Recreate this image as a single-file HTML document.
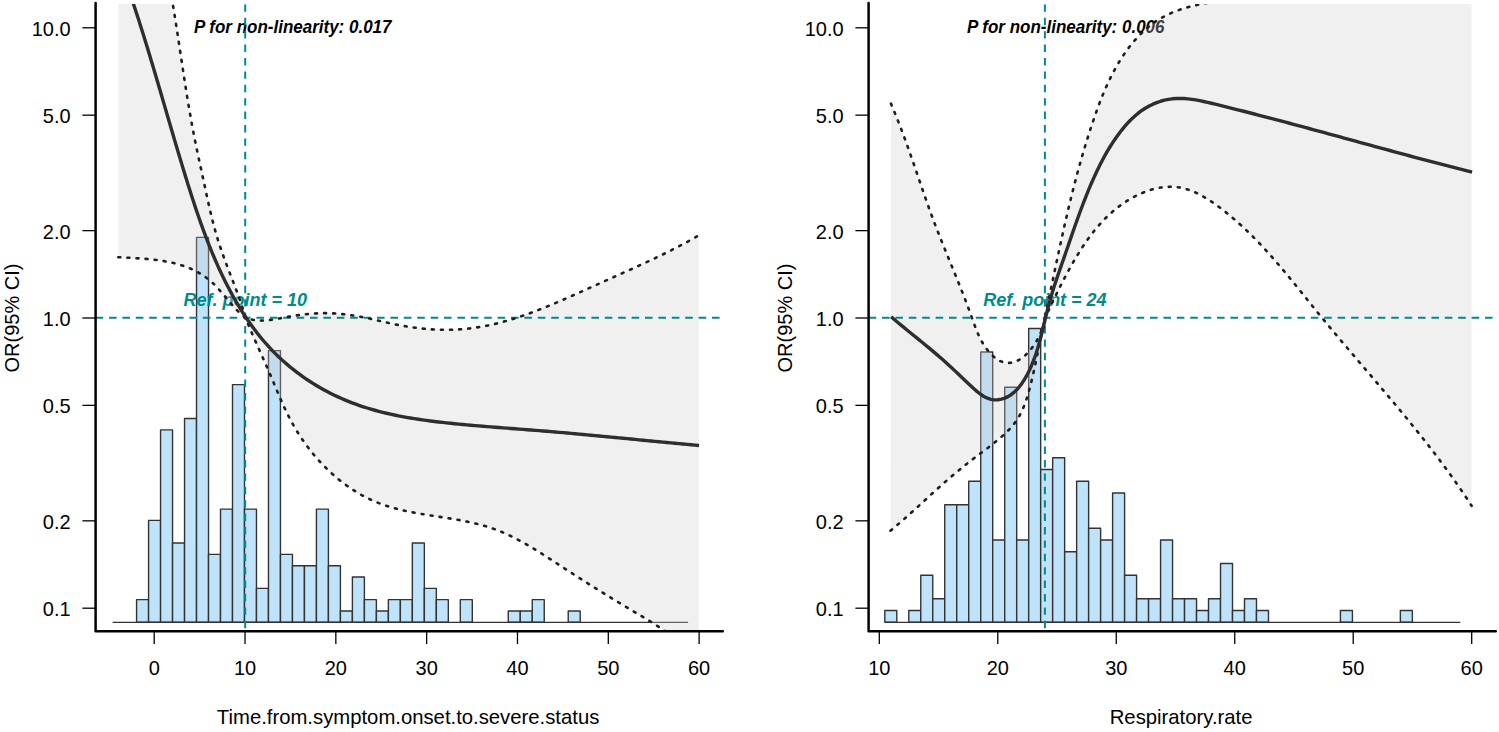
<!DOCTYPE html>
<html><head><meta charset="utf-8"><style>
html,body{margin:0;padding:0;background:#fff;}
body{width:1499px;height:732px;overflow:hidden;font-family:"Liberation Sans", sans-serif;}
svg{display:block;}
</style></head><body>
<svg width="1499" height="732" viewBox="0 0 1499 732">
<defs><clipPath id="cl"><rect x="95.6" y="4" width="628" height="627"/></clipPath><clipPath id="cr"><rect x="868.6" y="4" width="628" height="627"/></clipPath></defs>
<rect width="1499" height="732" fill="#fff"/>
<g fill="#bee3fb" stroke="#333333" stroke-width="1.4" stroke-linejoin="round">
<rect x="136.58" y="599.66" width="11.99" height="22.64"/>
<rect x="148.57" y="520.42" width="11.99" height="101.88"/>
<rect x="160.56" y="429.86" width="11.99" height="192.44"/>
<rect x="172.55" y="543.06" width="11.99" height="79.24"/>
<rect x="184.54" y="418.54" width="11.99" height="203.76"/>
<rect x="196.53" y="237.42" width="11.99" height="384.88"/>
<rect x="208.52" y="554.38" width="11.99" height="67.92"/>
<rect x="220.51" y="509.10" width="11.99" height="113.20"/>
<rect x="232.50" y="384.58" width="11.99" height="237.72"/>
<rect x="244.49" y="509.10" width="11.99" height="113.20"/>
<rect x="256.48" y="588.34" width="11.99" height="33.96"/>
<rect x="268.47" y="350.62" width="11.99" height="271.68"/>
<rect x="280.46" y="554.38" width="11.99" height="67.92"/>
<rect x="292.45" y="565.70" width="11.99" height="56.60"/>
<rect x="304.44" y="565.70" width="11.99" height="56.60"/>
<rect x="316.43" y="509.10" width="11.99" height="113.20"/>
<rect x="328.42" y="565.70" width="11.99" height="56.60"/>
<rect x="340.41" y="610.98" width="11.99" height="11.32"/>
<rect x="352.40" y="577.02" width="11.99" height="45.28"/>
<rect x="364.39" y="599.66" width="11.99" height="22.64"/>
<rect x="376.38" y="610.98" width="11.99" height="11.32"/>
<rect x="388.37" y="599.66" width="11.99" height="22.64"/>
<rect x="400.36" y="599.66" width="11.99" height="22.64"/>
<rect x="412.35" y="543.06" width="11.99" height="79.24"/>
<rect x="424.34" y="588.34" width="11.99" height="33.96"/>
<rect x="436.33" y="599.66" width="11.99" height="22.64"/>
<rect x="460.31" y="599.66" width="11.99" height="22.64"/>
<rect x="508.27" y="610.98" width="11.99" height="11.32"/>
<rect x="520.26" y="610.98" width="11.99" height="11.32"/>
<rect x="532.25" y="599.66" width="11.99" height="22.64"/>
<rect x="568.22" y="610.98" width="11.99" height="11.32"/>
</g>
<line x1="112.60" y1="622.30" x2="688.12" y2="622.30" stroke="#333333" stroke-width="1.3"/>
<text transform="translate(292.7,33.3) scale(1,1.07)" font-family="Liberation Sans" font-weight="bold" font-style="italic" font-size="17" text-anchor="middle" fill="#000">P for non-linearity: 0.017</text>
<text transform="translate(245.2,305.7) scale(1,1.05)" font-family="Liberation Sans" font-weight="bold" font-style="italic" font-size="18" text-anchor="middle" fill="#008B8B">Ref. point = 10</text>
<g clip-path="url(#cl)">
<path d="M118.30,-200.00 L170.00,-12.00 L170.72,-7.96 L171.42,-3.92 L172.12,0.12 L172.80,4.17 L173.47,8.21 L174.13,12.25 L174.78,16.30 L175.42,20.34 L176.05,24.38 L176.68,28.43 L177.31,32.47 L177.93,36.52 L178.54,40.56 L179.15,44.60 L179.76,48.65 L180.37,52.69 L180.98,56.73 L181.59,60.77 L182.20,64.81 L182.81,68.85 L183.42,72.89 L184.04,76.93 L184.66,80.97 L185.29,85.00 L185.93,89.03 L186.57,93.07 L187.22,97.10 L187.88,101.13 L188.55,105.16 L189.23,109.18 L189.93,113.20 L190.63,117.23 L191.35,121.25 L192.08,125.26 L192.83,129.28 L193.59,133.29 L194.38,137.30 L195.17,141.31 L195.99,145.32 L196.82,149.32 L197.66,153.32 L198.52,157.32 L199.38,161.31 L200.24,165.30 L201.11,169.29 L201.97,173.28 L202.84,177.26 L203.70,181.23 L204.55,185.21 L205.40,189.18 L206.25,193.15 L207.10,197.11 L207.97,201.07 L208.85,205.03 L209.75,208.98 L210.67,212.92 L211.62,216.87 L212.60,220.81 L213.62,224.74 L214.68,228.67 L215.78,232.59 L216.93,236.51 L218.12,240.43 L219.37,244.34 L220.67,248.25 L222.02,252.15 L223.41,256.04 L224.83,259.93 L226.28,263.82 L227.76,267.70 L229.24,271.57 L230.73,275.44 L232.22,279.30 L233.70,283.16 L235.16,287.01 L236.60,290.85 L238.01,294.69 L239.38,298.52 L240.70,302.35 L241.97,306.17 L243.19,309.98 L244.33,313.79 L245.40,317.59 L249.35,319.00 L253.32,319.93 L257.30,320.44 L261.28,320.59 L265.26,320.45 L269.25,320.08 L273.24,319.51 L277.24,318.83 L281.23,318.08 L285.23,317.33 L289.24,316.61 L293.24,315.94 L297.25,315.33 L301.26,314.78 L305.28,314.30 L309.29,313.89 L313.31,313.57 L317.33,313.34 L321.35,313.20 L325.37,313.16 L329.39,313.23 L333.42,313.40 L337.44,313.66 L341.47,314.01 L345.49,314.44 L349.52,314.96 L353.54,315.55 L357.57,316.21 L361.59,316.94 L365.62,317.73 L369.64,318.58 L373.67,319.47 L377.69,320.40 L381.71,321.33 L385.73,322.27 L389.75,323.18 L393.77,324.05 L397.79,324.88 L401.80,325.64 L405.81,326.34 L409.82,326.98 L413.83,327.56 L417.83,328.07 L421.84,328.52 L425.84,328.90 L429.83,329.21 L433.83,329.46 L437.82,329.63 L441.80,329.74 L445.78,329.78 L449.76,329.74 L453.74,329.63 L457.71,329.44 L461.67,329.18 L465.64,328.85 L469.59,328.43 L473.54,327.94 L477.49,327.37 L481.43,326.72 L485.37,325.99 L489.30,325.19 L493.23,324.32 L497.15,323.38 L501.06,322.37 L504.97,321.31 L508.87,320.18 L512.77,319.00 L516.66,317.76 L520.55,316.48 L524.43,315.15 L528.30,313.77 L532.17,312.35 L536.03,310.89 L539.89,309.40 L543.74,307.87 L547.58,306.31 L551.42,304.72 L555.25,303.11 L559.07,301.48 L562.89,299.83 L566.70,298.16 L570.50,296.48 L574.30,294.79 L578.09,293.10 L581.87,291.39 L585.64,289.69 L589.41,287.99 L593.17,286.29 L596.93,284.60 L600.67,282.92 L604.41,281.24 L608.14,279.57 L611.87,277.91 L615.58,276.25 L619.29,274.59 L622.99,272.93 L626.68,271.27 L630.37,269.61 L634.05,267.94 L637.71,266.27 L641.38,264.58 L645.03,262.89 L648.67,261.19 L652.31,259.48 L655.94,257.75 L659.55,256.01 L663.16,254.25 L666.77,252.47 L670.36,250.67 L673.94,248.85 L677.52,247.01 L681.09,245.15 L684.64,243.25 L688.19,241.33 L691.73,239.39 L695.26,237.41 L698.78,235.40 L698.80,700.00 L698.80,700.00 L680.00,642.00 L676.92,639.59 L673.76,637.21 L670.55,634.87 L667.27,632.57 L663.95,630.30 L660.58,628.06 L657.17,625.84 L653.73,623.65 L650.25,621.48 L646.76,619.33 L643.25,617.20 L639.72,615.08 L636.20,612.97 L632.67,610.87 L629.15,608.78 L625.64,606.69 L622.14,604.60 L618.67,602.51 L615.22,600.42 L611.79,598.33 L608.37,596.23 L604.96,594.13 L601.57,592.03 L598.20,589.93 L594.83,587.82 L591.47,585.70 L588.12,583.58 L584.77,581.46 L581.42,579.33 L578.08,577.19 L574.74,575.04 L571.40,572.89 L568.05,570.72 L564.71,568.55 L561.35,566.37 L557.99,564.18 L554.62,561.98 L551.24,559.78 L547.84,557.58 L544.44,555.39 L541.01,553.22 L537.58,551.07 L534.12,548.94 L530.64,546.85 L527.14,544.80 L523.62,542.80 L520.07,540.85 L516.50,538.95 L512.90,537.12 L509.27,535.36 L505.61,533.67 L501.91,532.07 L498.19,530.56 L494.42,529.13 L490.62,527.81 L486.78,526.58 L482.91,525.45 L479.01,524.39 L475.09,523.41 L471.14,522.50 L467.16,521.64 L463.17,520.84 L459.16,520.09 L455.14,519.38 L451.11,518.69 L447.08,518.03 L443.03,517.39 L438.99,516.76 L434.95,516.13 L430.91,515.50 L426.88,514.86 L422.86,514.19 L418.85,513.50 L414.86,512.78 L410.88,512.02 L406.93,511.21 L403.00,510.34 L399.10,509.41 L395.23,508.41 L391.39,507.34 L387.58,506.18 L383.82,504.94 L380.09,503.59 L376.41,502.14 L372.78,500.58 L369.19,498.92 L365.65,497.16 L362.16,495.31 L358.71,493.35 L355.32,491.31 L351.97,489.17 L348.68,486.95 L345.44,484.64 L342.25,482.25 L339.12,479.78 L336.04,477.23 L333.02,474.60 L330.06,471.90 L327.15,469.13 L324.30,466.30 L321.50,463.39 L318.77,460.43 L316.10,457.40 L313.49,454.32 L310.95,451.18 L308.46,447.99 L306.05,444.75 L303.69,441.45 L301.40,438.12 L299.18,434.74 L297.03,431.32 L294.94,427.86 L292.93,424.37 L290.98,420.84 L289.11,417.28 L287.30,413.69 L285.55,410.08 L283.86,406.45 L282.20,402.79 L280.59,399.11 L278.99,395.42 L277.42,391.71 L275.86,387.98 L274.29,384.25 L272.72,380.50 L271.14,376.75 L269.53,373.00 L267.90,369.24 L266.25,365.49 L264.58,361.73 L262.91,357.98 L261.23,354.23 L259.56,350.50 L257.89,346.77 L256.23,343.06 L254.59,339.36 L252.98,335.68 L251.39,332.02 L249.83,328.38 L248.31,324.76 L246.83,321.17 L245.39,317.60 L242.40,315.32 L239.49,312.74 L236.64,309.92 L233.84,306.91 L231.08,303.74 L228.33,300.48 L225.57,297.17 L222.79,293.85 L219.97,290.58 L217.10,287.41 L214.15,284.37 L211.11,281.53 L207.96,278.91 L204.72,276.50 L201.38,274.29 L197.96,272.27 L194.45,270.43 L190.86,268.77 L187.20,267.27 L183.47,265.92 L179.68,264.71 L175.82,263.64 L171.92,262.69 L167.96,261.86 L163.95,261.13 L159.91,260.49 L155.83,259.94 L151.72,259.46 L147.58,259.05 L143.42,258.70 L139.25,258.39 L135.06,258.12 L130.87,257.87 L126.67,257.65 L122.48,257.43 L118.30,257.20Z" fill="rgba(205,205,205,0.30)" stroke="none"/>
<line x1="95.6" y1="317.8" x2="723.6" y2="317.8" stroke="#008B8B" stroke-width="2" stroke-dasharray="7.6 5.8"/>
<line x1="245.2" y1="4.4" x2="245.2" y2="631" stroke="#008B8B" stroke-width="2" stroke-dasharray="7.4 6"/>
<path d="M170.00,-12.00 L170.72,-7.96 L171.42,-3.92 L172.12,0.12 L172.80,4.17 L173.47,8.21 L174.13,12.25 L174.78,16.30 L175.42,20.34 L176.05,24.38 L176.68,28.43 L177.31,32.47 L177.93,36.52 L178.54,40.56 L179.15,44.60 L179.76,48.65 L180.37,52.69 L180.98,56.73 L181.59,60.77 L182.20,64.81 L182.81,68.85 L183.42,72.89 L184.04,76.93 L184.66,80.97 L185.29,85.00 L185.93,89.03 L186.57,93.07 L187.22,97.10 L187.88,101.13 L188.55,105.16 L189.23,109.18 L189.93,113.20 L190.63,117.23 L191.35,121.25 L192.08,125.26 L192.83,129.28 L193.59,133.29 L194.38,137.30 L195.17,141.31 L195.99,145.32 L196.82,149.32 L197.66,153.32 L198.52,157.32 L199.38,161.31 L200.24,165.30 L201.11,169.29 L201.97,173.28 L202.84,177.26 L203.70,181.23 L204.55,185.21 L205.40,189.18 L206.25,193.15 L207.10,197.11 L207.97,201.07 L208.85,205.03 L209.75,208.98 L210.67,212.92 L211.62,216.87 L212.60,220.81 L213.62,224.74 L214.68,228.67 L215.78,232.59 L216.93,236.51 L218.12,240.43 L219.37,244.34 L220.67,248.25 L222.02,252.15 L223.41,256.04 L224.83,259.93 L226.28,263.82 L227.76,267.70 L229.24,271.57 L230.73,275.44 L232.22,279.30 L233.70,283.16 L235.16,287.01 L236.60,290.85 L238.01,294.69 L239.38,298.52 L240.70,302.35 L241.97,306.17 L243.19,309.98 L244.33,313.79 L245.40,317.59 L249.35,319.00 L253.32,319.93 L257.30,320.44 L261.28,320.59 L265.26,320.45 L269.25,320.08 L273.24,319.51 L277.24,318.83 L281.23,318.08 L285.23,317.33 L289.24,316.61 L293.24,315.94 L297.25,315.33 L301.26,314.78 L305.28,314.30 L309.29,313.89 L313.31,313.57 L317.33,313.34 L321.35,313.20 L325.37,313.16 L329.39,313.23 L333.42,313.40 L337.44,313.66 L341.47,314.01 L345.49,314.44 L349.52,314.96 L353.54,315.55 L357.57,316.21 L361.59,316.94 L365.62,317.73 L369.64,318.58 L373.67,319.47 L377.69,320.40 L381.71,321.33 L385.73,322.27 L389.75,323.18 L393.77,324.05 L397.79,324.88 L401.80,325.64 L405.81,326.34 L409.82,326.98 L413.83,327.56 L417.83,328.07 L421.84,328.52 L425.84,328.90 L429.83,329.21 L433.83,329.46 L437.82,329.63 L441.80,329.74 L445.78,329.78 L449.76,329.74 L453.74,329.63 L457.71,329.44 L461.67,329.18 L465.64,328.85 L469.59,328.43 L473.54,327.94 L477.49,327.37 L481.43,326.72 L485.37,325.99 L489.30,325.19 L493.23,324.32 L497.15,323.38 L501.06,322.37 L504.97,321.31 L508.87,320.18 L512.77,319.00 L516.66,317.76 L520.55,316.48 L524.43,315.15 L528.30,313.77 L532.17,312.35 L536.03,310.89 L539.89,309.40 L543.74,307.87 L547.58,306.31 L551.42,304.72 L555.25,303.11 L559.07,301.48 L562.89,299.83 L566.70,298.16 L570.50,296.48 L574.30,294.79 L578.09,293.10 L581.87,291.39 L585.64,289.69 L589.41,287.99 L593.17,286.29 L596.93,284.60 L600.67,282.92 L604.41,281.24 L608.14,279.57 L611.87,277.91 L615.58,276.25 L619.29,274.59 L622.99,272.93 L626.68,271.27 L630.37,269.61 L634.05,267.94 L637.71,266.27 L641.38,264.58 L645.03,262.89 L648.67,261.19 L652.31,259.48 L655.94,257.75 L659.55,256.01 L663.16,254.25 L666.77,252.47 L670.36,250.67 L673.94,248.85 L677.52,247.01 L681.09,245.15 L684.64,243.25 L688.19,241.33 L691.73,239.39 L695.26,237.41 L698.78,235.40" fill="none" stroke="#1e1e1e" stroke-width="2.6" stroke-linecap="round" stroke-dasharray="2.0 7.1"/>
<path d="M118.30,257.20 L122.48,257.43 L126.67,257.65 L130.87,257.87 L135.06,258.12 L139.25,258.39 L143.42,258.70 L147.58,259.05 L151.72,259.46 L155.83,259.94 L159.91,260.49 L163.95,261.13 L167.96,261.86 L171.92,262.69 L175.82,263.64 L179.68,264.71 L183.47,265.92 L187.20,267.27 L190.86,268.77 L194.45,270.43 L197.96,272.27 L201.38,274.29 L204.72,276.50 L207.96,278.91 L211.11,281.53 L214.15,284.37 L217.10,287.41 L219.97,290.58 L222.79,293.85 L225.57,297.17 L228.33,300.48 L231.08,303.74 L233.84,306.91 L236.64,309.92 L239.49,312.74 L242.40,315.32 L245.39,317.60 L246.83,321.17 L248.31,324.76 L249.83,328.38 L251.39,332.02 L252.98,335.68 L254.59,339.36 L256.23,343.06 L257.89,346.77 L259.56,350.50 L261.23,354.23 L262.91,357.98 L264.58,361.73 L266.25,365.49 L267.90,369.24 L269.53,373.00 L271.14,376.75 L272.72,380.50 L274.29,384.25 L275.86,387.98 L277.42,391.71 L278.99,395.42 L280.59,399.11 L282.20,402.79 L283.86,406.45 L285.55,410.08 L287.30,413.69 L289.11,417.28 L290.98,420.84 L292.93,424.37 L294.94,427.86 L297.03,431.32 L299.18,434.74 L301.40,438.12 L303.69,441.45 L306.05,444.75 L308.46,447.99 L310.95,451.18 L313.49,454.32 L316.10,457.40 L318.77,460.43 L321.50,463.39 L324.30,466.30 L327.15,469.13 L330.06,471.90 L333.02,474.60 L336.04,477.23 L339.12,479.78 L342.25,482.25 L345.44,484.64 L348.68,486.95 L351.97,489.17 L355.32,491.31 L358.71,493.35 L362.16,495.31 L365.65,497.16 L369.19,498.92 L372.78,500.58 L376.41,502.14 L380.09,503.59 L383.82,504.94 L387.58,506.18 L391.39,507.34 L395.23,508.41 L399.10,509.41 L403.00,510.34 L406.93,511.21 L410.88,512.02 L414.86,512.78 L418.85,513.50 L422.86,514.19 L426.88,514.86 L430.91,515.50 L434.95,516.13 L438.99,516.76 L443.03,517.39 L447.08,518.03 L451.11,518.69 L455.14,519.38 L459.16,520.09 L463.17,520.84 L467.16,521.64 L471.14,522.50 L475.09,523.41 L479.01,524.39 L482.91,525.45 L486.78,526.58 L490.62,527.81 L494.42,529.13 L498.19,530.56 L501.91,532.07 L505.61,533.67 L509.27,535.36 L512.90,537.12 L516.50,538.95 L520.07,540.85 L523.62,542.80 L527.14,544.80 L530.64,546.85 L534.12,548.94 L537.58,551.07 L541.01,553.22 L544.44,555.39 L547.84,557.58 L551.24,559.78 L554.62,561.98 L557.99,564.18 L561.35,566.37 L564.71,568.55 L568.05,570.72 L571.40,572.89 L574.74,575.04 L578.08,577.19 L581.42,579.33 L584.77,581.46 L588.12,583.58 L591.47,585.70 L594.83,587.82 L598.20,589.93 L601.57,592.03 L604.96,594.13 L608.37,596.23 L611.79,598.33 L615.22,600.42 L618.67,602.51 L622.14,604.60 L625.64,606.69 L629.15,608.78 L632.67,610.87 L636.20,612.97 L639.72,615.08 L643.25,617.20 L646.76,619.33 L650.25,621.48 L653.73,623.65 L657.17,625.84 L660.58,628.06 L663.95,630.30 L667.27,632.57 L670.55,634.87 L673.76,637.21 L676.92,639.59 L680.00,642.00" fill="none" stroke="#1e1e1e" stroke-width="2.6" stroke-linecap="round" stroke-dasharray="2.0 7.1"/>
<path d="M128.00,-11.99 L129.29,-8.27 L130.57,-4.54 L131.85,-0.79 L133.11,2.96 L134.36,6.72 L135.61,10.49 L136.84,14.27 L138.07,18.06 L139.29,21.85 L140.50,25.65 L141.71,29.46 L142.90,33.27 L144.09,37.09 L145.28,40.92 L146.46,44.75 L147.63,48.59 L148.80,52.44 L149.96,56.28 L151.12,60.14 L152.28,63.99 L153.43,67.86 L154.58,71.72 L155.72,75.59 L156.86,79.46 L158.00,83.34 L159.14,87.21 L160.28,91.09 L161.41,94.98 L162.54,98.86 L163.68,102.74 L164.81,106.63 L165.94,110.52 L167.07,114.41 L168.21,118.29 L169.34,122.18 L170.48,126.07 L171.62,129.96 L172.76,133.84 L173.90,137.73 L175.05,141.61 L176.19,145.49 L177.35,149.37 L178.50,153.25 L179.66,157.13 L180.83,161.00 L182.00,164.87 L183.17,168.73 L184.35,172.59 L185.54,176.45 L186.73,180.30 L187.93,184.15 L189.14,188.00 L190.35,191.83 L191.58,195.67 L192.82,199.50 L194.07,203.32 L195.33,207.13 L196.61,210.94 L197.91,214.74 L199.22,218.53 L200.55,222.32 L201.90,226.10 L203.27,229.87 L204.66,233.63 L206.08,237.39 L207.52,241.13 L208.99,244.87 L210.48,248.59 L212.00,252.31 L213.55,256.01 L215.13,259.71 L216.75,263.39 L218.39,267.07 L220.07,270.73 L221.79,274.38 L223.54,278.02 L225.33,281.64 L227.16,285.25 L229.02,288.84 L230.93,292.41 L232.87,295.96 L234.86,299.48 L236.89,302.98 L238.96,306.45 L241.07,309.89 L243.23,313.30 L245.43,316.67 L247.68,320.01 L249.98,323.32 L252.32,326.58 L254.71,329.81 L257.15,332.99 L259.64,336.12 L262.18,339.21 L264.77,342.25 L267.41,345.24 L270.10,348.17 L272.85,351.06 L275.65,353.88 L278.50,356.66 L281.40,359.37 L284.36,362.03 L287.36,364.63 L290.40,367.18 L293.50,369.67 L296.63,372.10 L299.81,374.47 L303.04,376.78 L306.31,379.04 L309.61,381.23 L312.96,383.37 L316.34,385.44 L319.77,387.46 L323.23,389.41 L326.72,391.31 L330.25,393.14 L333.81,394.91 L337.40,396.61 L341.03,398.26 L344.68,399.84 L348.36,401.36 L352.07,402.81 L355.81,404.20 L359.57,405.53 L363.36,406.79 L367.17,408.00 L371.00,409.15 L374.85,410.25 L378.72,411.29 L382.62,412.29 L386.53,413.23 L390.45,414.13 L394.40,414.99 L398.35,415.80 L402.32,416.57 L406.31,417.30 L410.30,417.99 L414.30,418.65 L418.32,419.27 L422.34,419.87 L426.37,420.43 L430.40,420.96 L434.44,421.47 L438.49,421.96 L442.53,422.43 L446.58,422.87 L450.63,423.30 L454.68,423.71 L458.72,424.10 L462.77,424.49 L466.81,424.86 L470.85,425.22 L474.88,425.58 L478.91,425.92 L482.94,426.26 L486.97,426.59 L490.99,426.91 L495.02,427.23 L499.04,427.55 L503.05,427.86 L507.07,428.17 L511.08,428.47 L515.10,428.78 L519.11,429.09 L523.11,429.40 L527.12,429.70 L531.12,430.02 L535.13,430.33 L539.13,430.65 L543.13,430.98 L547.13,431.31 L551.13,431.64 L555.12,431.98 L559.12,432.32 L563.11,432.67 L567.11,433.02 L571.10,433.38 L575.10,433.74 L579.09,434.11 L583.08,434.47 L587.07,434.84 L591.06,435.21 L595.05,435.59 L599.04,435.97 L603.03,436.35 L607.02,436.73 L611.01,437.11 L615.00,437.50 L618.99,437.88 L622.99,438.27 L626.98,438.66 L630.97,439.04 L634.96,439.43 L638.96,439.82 L642.95,440.21 L646.95,440.60 L650.94,440.98 L654.94,441.37 L658.94,441.76 L662.94,442.14 L666.94,442.52 L670.94,442.90 L674.94,443.28 L678.95,443.66 L682.95,444.03 L686.96,444.41 L690.97,444.77 L694.98,445.14 L699.00,445.50" fill="none" stroke="#2e2e2e" stroke-width="3.4" stroke-linejoin="round"/>
</g>
<path d="M95.60,3 V631.3 H722.80" fill="none" stroke="#000" stroke-width="2.5" stroke-linejoin="round" stroke-linecap="round"/>
<line x1="82.4" y1="27.80" x2="95.6" y2="27.80" stroke="#000" stroke-width="1.3"/>
<text transform="translate(70.6,35.80) scale(1,1.04)" font-family="Liberation Sans" font-size="20" text-anchor="end">10.0</text>
<line x1="82.4" y1="115.16" x2="95.6" y2="115.16" stroke="#000" stroke-width="1.3"/>
<text transform="translate(70.6,123.16) scale(1,1.04)" font-family="Liberation Sans" font-size="20" text-anchor="end">5.0</text>
<line x1="82.4" y1="230.64" x2="95.6" y2="230.64" stroke="#000" stroke-width="1.3"/>
<text transform="translate(70.6,238.64) scale(1,1.04)" font-family="Liberation Sans" font-size="20" text-anchor="end">2.0</text>
<line x1="82.4" y1="318.00" x2="95.6" y2="318.00" stroke="#000" stroke-width="1.3"/>
<text transform="translate(70.6,326.00) scale(1,1.04)" font-family="Liberation Sans" font-size="20" text-anchor="end">1.0</text>
<line x1="82.4" y1="405.36" x2="95.6" y2="405.36" stroke="#000" stroke-width="1.3"/>
<text transform="translate(70.6,413.36) scale(1,1.04)" font-family="Liberation Sans" font-size="20" text-anchor="end">0.5</text>
<line x1="82.4" y1="520.84" x2="95.6" y2="520.84" stroke="#000" stroke-width="1.3"/>
<text transform="translate(70.6,528.84) scale(1,1.04)" font-family="Liberation Sans" font-size="20" text-anchor="end">0.2</text>
<line x1="82.4" y1="608.20" x2="95.6" y2="608.20" stroke="#000" stroke-width="1.3"/>
<text transform="translate(70.6,616.20) scale(1,1.04)" font-family="Liberation Sans" font-size="20" text-anchor="end">0.1</text>
<line x1="154.20" y1="631" x2="154.20" y2="644" stroke="#000" stroke-width="1.3"/>
<text transform="translate(154.20,675.3) scale(1,1.04)" font-family="Liberation Sans" font-size="20" text-anchor="middle">0</text>
<line x1="245.02" y1="631" x2="245.02" y2="644" stroke="#000" stroke-width="1.3"/>
<text transform="translate(245.02,675.3) scale(1,1.04)" font-family="Liberation Sans" font-size="20" text-anchor="middle">10</text>
<line x1="335.84" y1="631" x2="335.84" y2="644" stroke="#000" stroke-width="1.3"/>
<text transform="translate(335.84,675.3) scale(1,1.04)" font-family="Liberation Sans" font-size="20" text-anchor="middle">20</text>
<line x1="426.66" y1="631" x2="426.66" y2="644" stroke="#000" stroke-width="1.3"/>
<text transform="translate(426.66,675.3) scale(1,1.04)" font-family="Liberation Sans" font-size="20" text-anchor="middle">30</text>
<line x1="517.48" y1="631" x2="517.48" y2="644" stroke="#000" stroke-width="1.3"/>
<text transform="translate(517.48,675.3) scale(1,1.04)" font-family="Liberation Sans" font-size="20" text-anchor="middle">40</text>
<line x1="608.30" y1="631" x2="608.30" y2="644" stroke="#000" stroke-width="1.3"/>
<text transform="translate(608.30,675.3) scale(1,1.04)" font-family="Liberation Sans" font-size="20" text-anchor="middle">50</text>
<line x1="699.12" y1="631" x2="699.12" y2="644" stroke="#000" stroke-width="1.3"/>
<text transform="translate(699.12,675.3) scale(1,1.04)" font-family="Liberation Sans" font-size="20" text-anchor="middle">60</text>
<text x="408.1" y="724.3" font-family="Liberation Sans" font-size="20.3" text-anchor="middle">Time.from.symptom.onset.to.severe.status</text>
<text transform="translate(18.7,318) rotate(-90)" font-family="Liberation Sans" font-size="20" text-anchor="middle">OR(95% CI)</text>
<g fill="#bee3fb" stroke="#333333" stroke-width="1.4" stroke-linejoin="round">
<rect x="884.80" y="610.55" width="11.99" height="11.75"/>
<rect x="908.78" y="610.55" width="11.99" height="11.75"/>
<rect x="920.77" y="575.30" width="11.99" height="47.00"/>
<rect x="932.76" y="598.80" width="11.99" height="23.50"/>
<rect x="944.75" y="504.80" width="11.99" height="117.50"/>
<rect x="956.74" y="504.80" width="11.99" height="117.50"/>
<rect x="968.73" y="481.30" width="11.99" height="141.00"/>
<rect x="980.72" y="352.05" width="11.99" height="270.25"/>
<rect x="992.71" y="540.05" width="11.99" height="82.25"/>
<rect x="1004.70" y="387.30" width="11.99" height="235.00"/>
<rect x="1016.69" y="540.05" width="11.99" height="82.25"/>
<rect x="1028.68" y="328.55" width="11.99" height="293.75"/>
<rect x="1040.67" y="469.55" width="11.99" height="152.75"/>
<rect x="1052.66" y="457.80" width="11.99" height="164.50"/>
<rect x="1064.65" y="551.80" width="11.99" height="70.50"/>
<rect x="1076.64" y="481.30" width="11.99" height="141.00"/>
<rect x="1088.63" y="528.30" width="11.99" height="94.00"/>
<rect x="1100.62" y="540.05" width="11.99" height="82.25"/>
<rect x="1112.61" y="493.05" width="11.99" height="129.25"/>
<rect x="1124.60" y="575.30" width="11.99" height="47.00"/>
<rect x="1136.59" y="598.80" width="11.99" height="23.50"/>
<rect x="1148.58" y="598.80" width="11.99" height="23.50"/>
<rect x="1160.57" y="540.05" width="11.99" height="82.25"/>
<rect x="1172.56" y="598.80" width="11.99" height="23.50"/>
<rect x="1184.55" y="598.80" width="11.99" height="23.50"/>
<rect x="1196.54" y="610.55" width="11.99" height="11.75"/>
<rect x="1208.53" y="598.80" width="11.99" height="23.50"/>
<rect x="1220.52" y="563.55" width="11.99" height="58.75"/>
<rect x="1232.51" y="610.55" width="11.99" height="11.75"/>
<rect x="1244.50" y="598.80" width="11.99" height="23.50"/>
<rect x="1256.49" y="610.55" width="11.99" height="11.75"/>
<rect x="1340.42" y="610.55" width="11.99" height="11.75"/>
<rect x="1400.37" y="610.55" width="11.99" height="11.75"/>
</g>
<line x1="884.80" y1="622.30" x2="1460.32" y2="622.30" stroke="#333333" stroke-width="1.3"/>
<text transform="translate(1065.7,33.3) scale(1,1.07)" font-family="Liberation Sans" font-weight="bold" font-style="italic" font-size="17" text-anchor="middle" fill="#000">P for non-linearity: 0.006</text>
<text transform="translate(1044.9,305.7) scale(1,1.05)" font-family="Liberation Sans" font-weight="bold" font-style="italic" font-size="18" text-anchor="middle" fill="#008B8B">Ref. point = 24</text>
<g clip-path="url(#cr)">
<path d="M890.90,103.60 L892.56,107.47 L894.17,111.34 L895.76,115.20 L897.31,119.06 L898.83,122.92 L900.32,126.77 L901.79,130.61 L903.23,134.46 L904.65,138.30 L906.05,142.13 L907.43,145.96 L908.79,149.79 L910.14,153.62 L911.48,157.45 L912.81,161.27 L914.13,165.09 L915.44,168.91 L916.75,172.72 L918.05,176.54 L919.35,180.35 L920.66,184.16 L921.97,187.97 L923.28,191.78 L924.61,195.59 L925.94,199.40 L927.28,203.21 L928.63,207.02 L930.01,210.83 L931.39,214.64 L932.80,218.45 L934.23,222.26 L935.68,226.07 L937.16,229.88 L938.65,233.69 L940.16,237.51 L941.68,241.33 L943.22,245.14 L944.77,248.96 L946.33,252.79 L947.90,256.61 L949.47,260.44 L951.04,264.27 L952.61,268.11 L954.18,271.94 L955.75,275.79 L957.31,279.63 L958.86,283.48 L960.40,287.33 L961.93,291.19 L963.45,295.05 L964.94,298.91 L966.42,302.78 L967.88,306.66 L969.31,310.54 L970.72,314.43 L972.10,318.32 L973.49,322.19 L974.90,326.04 L976.37,329.85 L977.93,333.59 L979.60,337.25 L981.42,340.82 L983.41,344.27 L985.60,347.59 L988.01,350.76 L990.69,353.76 L993.65,356.58 L996.86,359.09 L1000.28,361.10 L1003.84,362.45 L1007.48,363.00 L1011.15,362.79 L1014.79,361.86 L1018.35,360.27 L1021.79,358.10 L1025.10,355.43 L1028.25,352.34 L1031.20,348.91 L1033.93,345.21 L1036.42,341.34 L1038.64,337.36 L1040.55,333.35 L1042.15,329.41 L1043.39,325.60 L1044.24,322.00 L1044.70,318.70 L1045.55,314.71 L1046.39,310.71 L1047.22,306.73 L1048.06,302.74 L1048.89,298.76 L1049.72,294.78 L1050.54,290.81 L1051.37,286.84 L1052.19,282.88 L1053.02,278.91 L1053.85,274.95 L1054.68,271.00 L1055.51,267.05 L1056.34,263.10 L1057.17,259.15 L1058.01,255.21 L1058.86,251.27 L1059.70,247.33 L1060.56,243.40 L1061.41,239.47 L1062.28,235.54 L1063.15,231.62 L1064.03,227.69 L1064.92,223.77 L1065.81,219.86 L1066.72,215.94 L1067.63,212.03 L1068.56,208.12 L1069.49,204.21 L1070.44,200.31 L1071.40,196.40 L1072.37,192.50 L1073.35,188.60 L1074.35,184.71 L1075.36,180.81 L1076.38,176.92 L1077.42,173.03 L1078.48,169.14 L1079.55,165.25 L1080.64,161.36 L1081.75,157.48 L1082.88,153.59 L1084.02,149.71 L1085.18,145.83 L1086.37,141.95 L1087.57,138.08 L1088.79,134.20 L1090.04,130.32 L1091.31,126.45 L1092.59,122.57 L1093.91,118.70 L1095.25,114.84 L1096.62,110.98 L1098.02,107.13 L1099.46,103.29 L1100.94,99.47 L1102.46,95.67 L1104.03,91.89 L1105.65,88.13 L1107.32,84.40 L1109.05,80.70 L1110.83,77.03 L1112.68,73.40 L1114.60,69.81 L1116.58,66.26 L1118.63,62.75 L1120.76,59.29 L1122.96,55.88 L1125.25,52.52 L1127.61,49.23 L1130.06,46.00 L1132.59,42.86 L1135.19,39.80 L1137.88,36.83 L1140.66,33.97 L1143.51,31.21 L1146.45,28.56 L1149.47,26.04 L1152.57,23.65 L1155.76,21.40 L1159.04,19.29 L1162.40,17.33 L1165.84,15.52 L1169.35,13.84 L1172.94,12.29 L1176.59,10.87 L1180.31,9.55 L1184.08,8.33 L1187.90,7.22 L1191.77,6.19 L1195.69,5.23 L1199.63,4.35 L1203.61,3.53 L1207.62,2.77 L1211.65,2.05 L1215.70,1.37 L1219.76,0.71 L1223.83,0.08 L1227.90,-0.53 L1231.97,-1.15 L1236.04,-1.76 L1240.09,-2.39 L1244.13,-3.04 L1248.14,-3.72 L1252.13,-4.43 L1256.08,-5.19 L1260.01,-5.99 L1471.60,-200.00 L1471.60,505.80 L1471.60,505.80 L1469.40,502.40 L1467.17,499.02 L1464.93,495.65 L1462.67,492.29 L1460.40,488.95 L1458.10,485.62 L1455.79,482.31 L1453.46,479.01 L1451.12,475.72 L1448.76,472.44 L1446.38,469.18 L1443.99,465.93 L1441.59,462.69 L1439.17,459.45 L1436.73,456.23 L1434.29,453.02 L1431.83,449.82 L1429.36,446.63 L1426.88,443.45 L1424.39,440.28 L1421.89,437.11 L1419.38,433.96 L1416.85,430.81 L1414.32,427.67 L1411.78,424.53 L1409.23,421.40 L1406.67,418.28 L1404.11,415.16 L1401.54,412.05 L1398.96,408.95 L1396.38,405.85 L1393.79,402.75 L1391.19,399.66 L1388.59,396.57 L1385.99,393.48 L1383.38,390.40 L1380.77,387.32 L1378.15,384.24 L1375.54,381.17 L1372.92,378.09 L1370.30,375.02 L1367.68,371.95 L1365.06,368.88 L1362.44,365.81 L1359.81,362.73 L1357.19,359.66 L1354.57,356.59 L1351.96,353.52 L1349.34,350.44 L1346.73,347.36 L1344.12,344.28 L1341.51,341.20 L1338.91,338.11 L1336.31,335.02 L1333.71,331.93 L1331.13,328.83 L1328.54,325.73 L1325.97,322.62 L1323.40,319.51 L1320.84,316.39 L1318.28,313.27 L1315.73,310.14 L1313.19,307.00 L1310.66,303.86 L1308.13,300.72 L1305.60,297.58 L1303.07,294.43 L1300.54,291.29 L1298.00,288.16 L1295.46,285.02 L1292.92,281.89 L1290.36,278.77 L1287.80,275.66 L1285.22,272.56 L1282.63,269.46 L1280.03,266.38 L1277.41,263.32 L1274.77,260.27 L1272.12,257.23 L1269.44,254.22 L1266.73,251.22 L1264.01,248.24 L1261.25,245.29 L1258.47,242.35 L1255.66,239.45 L1252.82,236.56 L1249.94,233.71 L1247.03,230.89 L1244.09,228.09 L1241.10,225.33 L1238.08,222.59 L1235.01,219.90 L1231.91,217.24 L1228.75,214.61 L1225.55,212.02 L1222.31,209.48 L1219.01,206.97 L1215.66,204.52 L1212.27,202.15 L1208.83,199.87 L1205.35,197.71 L1201.82,195.69 L1198.25,193.82 L1194.64,192.14 L1191.00,190.65 L1187.31,189.38 L1183.59,188.34 L1179.83,187.57 L1176.05,187.06 L1172.23,186.82 L1168.41,186.83 L1164.57,187.09 L1160.73,187.57 L1156.90,188.28 L1153.08,189.20 L1149.28,190.32 L1145.51,191.63 L1141.78,193.12 L1138.09,194.78 L1134.45,196.60 L1130.87,198.57 L1127.36,200.68 L1123.92,202.92 L1120.57,205.28 L1117.31,207.74 L1114.14,210.31 L1111.06,212.96 L1108.08,215.71 L1105.19,218.54 L1102.37,221.45 L1099.64,224.44 L1096.99,227.50 L1094.40,230.63 L1091.89,233.82 L1089.44,237.07 L1087.05,240.38 L1084.73,243.74 L1082.45,247.14 L1080.23,250.59 L1078.05,254.08 L1075.91,257.60 L1073.82,261.15 L1071.76,264.73 L1069.75,268.33 L1067.76,271.95 L1065.82,275.58 L1063.90,279.22 L1062.02,282.86 L1060.18,286.51 L1058.36,290.16 L1056.56,293.79 L1054.80,297.42 L1053.06,301.03 L1051.34,304.62 L1049.65,308.18 L1047.98,311.72 L1046.33,315.22 L1044.70,318.70 L1043.84,322.52 L1042.99,326.40 L1042.16,330.32 L1041.35,334.29 L1040.54,338.29 L1039.74,342.32 L1038.94,346.38 L1038.14,350.45 L1037.32,354.54 L1036.50,358.63 L1035.66,362.72 L1034.79,366.81 L1033.91,370.89 L1032.99,374.95 L1032.04,378.99 L1031.06,383.01 L1030.03,386.98 L1028.96,390.92 L1027.84,394.82 L1026.65,398.66 L1025.37,402.44 L1023.97,406.16 L1022.42,409.82 L1020.71,413.40 L1018.79,416.90 L1016.64,420.31 L1014.24,423.63 L1011.58,426.86 L1008.71,429.98 L1005.68,432.99 L1002.55,435.88 L999.38,438.66 L996.20,441.31 L993.02,443.87 L989.84,446.34 L986.67,448.76 L983.50,451.14 L980.33,453.51 L977.17,455.88 L974.01,458.28 L970.85,460.70 L967.70,463.15 L964.55,465.63 L961.40,468.15 L958.26,470.71 L955.12,473.32 L951.99,475.98 L948.86,478.67 L945.73,481.40 L942.61,484.16 L939.50,486.94 L936.39,489.74 L933.29,492.56 L930.19,495.39 L927.10,498.22 L924.01,501.05 L920.93,503.88 L917.86,506.69 L914.79,509.49 L911.73,512.27 L908.67,515.02 L905.63,517.74 L902.59,520.43 L899.56,523.07 L896.53,525.67 L893.51,528.21 L890.50,530.70Z" fill="rgba(205,205,205,0.30)" stroke="none"/>
<line x1="868.6" y1="317.8" x2="1496.6" y2="317.8" stroke="#008B8B" stroke-width="2" stroke-dasharray="7.6 5.8"/>
<line x1="1044.9" y1="4.4" x2="1044.9" y2="631" stroke="#008B8B" stroke-width="2" stroke-dasharray="7.4 6"/>
<path d="M890.90,103.60 L892.56,107.47 L894.17,111.34 L895.76,115.20 L897.31,119.06 L898.83,122.92 L900.32,126.77 L901.79,130.61 L903.23,134.46 L904.65,138.30 L906.05,142.13 L907.43,145.96 L908.79,149.79 L910.14,153.62 L911.48,157.45 L912.81,161.27 L914.13,165.09 L915.44,168.91 L916.75,172.72 L918.05,176.54 L919.35,180.35 L920.66,184.16 L921.97,187.97 L923.28,191.78 L924.61,195.59 L925.94,199.40 L927.28,203.21 L928.63,207.02 L930.01,210.83 L931.39,214.64 L932.80,218.45 L934.23,222.26 L935.68,226.07 L937.16,229.88 L938.65,233.69 L940.16,237.51 L941.68,241.33 L943.22,245.14 L944.77,248.96 L946.33,252.79 L947.90,256.61 L949.47,260.44 L951.04,264.27 L952.61,268.11 L954.18,271.94 L955.75,275.79 L957.31,279.63 L958.86,283.48 L960.40,287.33 L961.93,291.19 L963.45,295.05 L964.94,298.91 L966.42,302.78 L967.88,306.66 L969.31,310.54 L970.72,314.43 L972.10,318.32 L973.49,322.19 L974.90,326.04 L976.37,329.85 L977.93,333.59 L979.60,337.25 L981.42,340.82 L983.41,344.27 L985.60,347.59 L988.01,350.76 L990.69,353.76 L993.65,356.58 L996.86,359.09 L1000.28,361.10 L1003.84,362.45 L1007.48,363.00 L1011.15,362.79 L1014.79,361.86 L1018.35,360.27 L1021.79,358.10 L1025.10,355.43 L1028.25,352.34 L1031.20,348.91 L1033.93,345.21 L1036.42,341.34 L1038.64,337.36 L1040.55,333.35 L1042.15,329.41 L1043.39,325.60 L1044.24,322.00 L1044.70,318.70 L1045.55,314.71 L1046.39,310.71 L1047.22,306.73 L1048.06,302.74 L1048.89,298.76 L1049.72,294.78 L1050.54,290.81 L1051.37,286.84 L1052.19,282.88 L1053.02,278.91 L1053.85,274.95 L1054.68,271.00 L1055.51,267.05 L1056.34,263.10 L1057.17,259.15 L1058.01,255.21 L1058.86,251.27 L1059.70,247.33 L1060.56,243.40 L1061.41,239.47 L1062.28,235.54 L1063.15,231.62 L1064.03,227.69 L1064.92,223.77 L1065.81,219.86 L1066.72,215.94 L1067.63,212.03 L1068.56,208.12 L1069.49,204.21 L1070.44,200.31 L1071.40,196.40 L1072.37,192.50 L1073.35,188.60 L1074.35,184.71 L1075.36,180.81 L1076.38,176.92 L1077.42,173.03 L1078.48,169.14 L1079.55,165.25 L1080.64,161.36 L1081.75,157.48 L1082.88,153.59 L1084.02,149.71 L1085.18,145.83 L1086.37,141.95 L1087.57,138.08 L1088.79,134.20 L1090.04,130.32 L1091.31,126.45 L1092.59,122.57 L1093.91,118.70 L1095.25,114.84 L1096.62,110.98 L1098.02,107.13 L1099.46,103.29 L1100.94,99.47 L1102.46,95.67 L1104.03,91.89 L1105.65,88.13 L1107.32,84.40 L1109.05,80.70 L1110.83,77.03 L1112.68,73.40 L1114.60,69.81 L1116.58,66.26 L1118.63,62.75 L1120.76,59.29 L1122.96,55.88 L1125.25,52.52 L1127.61,49.23 L1130.06,46.00 L1132.59,42.86 L1135.19,39.80 L1137.88,36.83 L1140.66,33.97 L1143.51,31.21 L1146.45,28.56 L1149.47,26.04 L1152.57,23.65 L1155.76,21.40 L1159.04,19.29 L1162.40,17.33 L1165.84,15.52 L1169.35,13.84 L1172.94,12.29 L1176.59,10.87 L1180.31,9.55 L1184.08,8.33 L1187.90,7.22 L1191.77,6.19 L1195.69,5.23 L1199.63,4.35 L1203.61,3.53 L1207.62,2.77 L1211.65,2.05 L1215.70,1.37 L1219.76,0.71 L1223.83,0.08 L1227.90,-0.53 L1231.97,-1.15 L1236.04,-1.76 L1240.09,-2.39 L1244.13,-3.04 L1248.14,-3.72 L1252.13,-4.43 L1256.08,-5.19 L1260.01,-5.99" fill="none" stroke="#1e1e1e" stroke-width="2.6" stroke-linecap="round" stroke-dasharray="2.0 7.1"/>
<path d="M890.50,530.70 L893.51,528.21 L896.53,525.67 L899.56,523.07 L902.59,520.43 L905.63,517.74 L908.67,515.02 L911.73,512.27 L914.79,509.49 L917.86,506.69 L920.93,503.88 L924.01,501.05 L927.10,498.22 L930.19,495.39 L933.29,492.56 L936.39,489.74 L939.50,486.94 L942.61,484.16 L945.73,481.40 L948.86,478.67 L951.99,475.98 L955.12,473.32 L958.26,470.71 L961.40,468.15 L964.55,465.63 L967.70,463.15 L970.85,460.70 L974.01,458.28 L977.17,455.88 L980.33,453.51 L983.50,451.14 L986.67,448.76 L989.84,446.34 L993.02,443.87 L996.20,441.31 L999.38,438.66 L1002.55,435.88 L1005.68,432.99 L1008.71,429.98 L1011.58,426.86 L1014.24,423.63 L1016.64,420.31 L1018.79,416.90 L1020.71,413.40 L1022.42,409.82 L1023.97,406.16 L1025.37,402.44 L1026.65,398.66 L1027.84,394.82 L1028.96,390.92 L1030.03,386.98 L1031.06,383.01 L1032.04,378.99 L1032.99,374.95 L1033.91,370.89 L1034.79,366.81 L1035.66,362.72 L1036.50,358.63 L1037.32,354.54 L1038.14,350.45 L1038.94,346.38 L1039.74,342.32 L1040.54,338.29 L1041.35,334.29 L1042.16,330.32 L1042.99,326.40 L1043.84,322.52 L1044.70,318.70 L1046.33,315.22 L1047.98,311.72 L1049.65,308.18 L1051.34,304.62 L1053.06,301.03 L1054.80,297.42 L1056.56,293.79 L1058.36,290.16 L1060.18,286.51 L1062.02,282.86 L1063.90,279.22 L1065.82,275.58 L1067.76,271.95 L1069.75,268.33 L1071.76,264.73 L1073.82,261.15 L1075.91,257.60 L1078.05,254.08 L1080.23,250.59 L1082.45,247.14 L1084.73,243.74 L1087.05,240.38 L1089.44,237.07 L1091.89,233.82 L1094.40,230.63 L1096.99,227.50 L1099.64,224.44 L1102.37,221.45 L1105.19,218.54 L1108.08,215.71 L1111.06,212.96 L1114.14,210.31 L1117.31,207.74 L1120.57,205.28 L1123.92,202.92 L1127.36,200.68 L1130.87,198.57 L1134.45,196.60 L1138.09,194.78 L1141.78,193.12 L1145.51,191.63 L1149.28,190.32 L1153.08,189.20 L1156.90,188.28 L1160.73,187.57 L1164.57,187.09 L1168.41,186.83 L1172.23,186.82 L1176.05,187.06 L1179.83,187.57 L1183.59,188.34 L1187.31,189.38 L1191.00,190.65 L1194.64,192.14 L1198.25,193.82 L1201.82,195.69 L1205.35,197.71 L1208.83,199.87 L1212.27,202.15 L1215.66,204.52 L1219.01,206.97 L1222.31,209.48 L1225.55,212.02 L1228.75,214.61 L1231.91,217.24 L1235.01,219.90 L1238.08,222.59 L1241.10,225.33 L1244.09,228.09 L1247.03,230.89 L1249.94,233.71 L1252.82,236.56 L1255.66,239.45 L1258.47,242.35 L1261.25,245.29 L1264.01,248.24 L1266.73,251.22 L1269.44,254.22 L1272.12,257.23 L1274.77,260.27 L1277.41,263.32 L1280.03,266.38 L1282.63,269.46 L1285.22,272.56 L1287.80,275.66 L1290.36,278.77 L1292.92,281.89 L1295.46,285.02 L1298.00,288.16 L1300.54,291.29 L1303.07,294.43 L1305.60,297.58 L1308.13,300.72 L1310.66,303.86 L1313.19,307.00 L1315.73,310.14 L1318.28,313.27 L1320.84,316.39 L1323.40,319.51 L1325.97,322.62 L1328.54,325.73 L1331.13,328.83 L1333.71,331.93 L1336.31,335.02 L1338.91,338.11 L1341.51,341.20 L1344.12,344.28 L1346.73,347.36 L1349.34,350.44 L1351.96,353.52 L1354.57,356.59 L1357.19,359.66 L1359.81,362.73 L1362.44,365.81 L1365.06,368.88 L1367.68,371.95 L1370.30,375.02 L1372.92,378.09 L1375.54,381.17 L1378.15,384.24 L1380.77,387.32 L1383.38,390.40 L1385.99,393.48 L1388.59,396.57 L1391.19,399.66 L1393.79,402.75 L1396.38,405.85 L1398.96,408.95 L1401.54,412.05 L1404.11,415.16 L1406.67,418.28 L1409.23,421.40 L1411.78,424.53 L1414.32,427.67 L1416.85,430.81 L1419.38,433.96 L1421.89,437.11 L1424.39,440.28 L1426.88,443.45 L1429.36,446.63 L1431.83,449.82 L1434.29,453.02 L1436.73,456.23 L1439.17,459.45 L1441.59,462.69 L1443.99,465.93 L1446.38,469.18 L1448.76,472.44 L1451.12,475.72 L1453.46,479.01 L1455.79,482.31 L1458.10,485.62 L1460.40,488.95 L1462.67,492.29 L1464.93,495.65 L1467.17,499.02 L1469.40,502.40 L1471.60,505.80" fill="none" stroke="#1e1e1e" stroke-width="2.6" stroke-linecap="round" stroke-dasharray="2.0 7.1"/>
<path d="M891.10,316.70 L894.35,319.48 L897.56,322.18 L900.73,324.83 L903.86,327.42 L906.97,329.97 L910.04,332.47 L913.09,334.95 L916.11,337.41 L919.12,339.85 L922.11,342.28 L925.08,344.71 L928.05,347.16 L931.02,349.62 L933.98,352.10 L936.95,354.62 L939.92,357.18 L942.90,359.79 L945.89,362.45 L948.89,365.18 L951.92,367.98 L954.96,370.86 L958.03,373.81 L961.13,376.80 L964.27,379.82 L967.44,382.83 L970.65,385.82 L973.90,388.76 L977.19,391.60 L980.54,394.22 L983.94,396.47 L987.40,398.20 L990.90,399.32 L994.43,399.83 L997.94,399.77 L1001.40,399.19 L1004.76,398.13 L1008.00,396.61 L1011.07,394.69 L1013.97,392.39 L1016.70,389.76 L1019.27,386.84 L1021.69,383.67 L1023.95,380.28 L1026.06,376.71 L1028.04,373.01 L1029.88,369.21 L1031.58,365.34 L1033.16,361.46 L1034.63,357.57 L1035.99,353.69 L1037.25,349.80 L1038.43,345.92 L1039.53,342.03 L1040.58,338.15 L1041.58,334.27 L1042.54,330.39 L1043.47,326.51 L1044.39,322.63 L1045.31,318.75 L1046.23,314.88 L1047.17,311.00 L1048.15,307.13 L1049.16,303.27 L1050.23,299.40 L1051.36,295.54 L1052.53,291.68 L1053.74,287.83 L1054.98,283.98 L1056.26,280.13 L1057.56,276.28 L1058.88,272.44 L1060.21,268.61 L1061.54,264.78 L1062.88,260.95 L1064.21,257.13 L1065.53,253.31 L1066.84,249.50 L1068.15,245.70 L1069.46,241.90 L1070.77,238.10 L1072.08,234.31 L1073.39,230.53 L1074.72,226.76 L1076.05,222.99 L1077.39,219.23 L1078.75,215.47 L1080.12,211.72 L1081.51,207.98 L1082.92,204.25 L1084.36,200.52 L1085.82,196.81 L1087.31,193.10 L1088.83,189.40 L1090.38,185.70 L1091.96,182.02 L1093.59,178.34 L1095.25,174.68 L1096.96,171.04 L1098.71,167.41 L1100.51,163.80 L1102.37,160.23 L1104.28,156.68 L1106.25,153.16 L1108.28,149.69 L1110.38,146.25 L1112.54,142.86 L1114.78,139.52 L1117.09,136.23 L1119.48,132.99 L1121.95,129.81 L1124.51,126.70 L1127.16,123.66 L1129.91,120.72 L1132.79,117.90 L1135.78,115.20 L1138.92,112.64 L1142.20,110.24 L1145.64,108.03 L1149.22,106.00 L1152.93,104.19 L1156.73,102.60 L1160.59,101.25 L1164.49,100.17 L1168.41,99.35 L1172.32,98.81 L1176.23,98.51 L1180.14,98.44 L1184.05,98.56 L1187.96,98.87 L1191.88,99.34 L1195.79,99.94 L1199.69,100.66 L1203.60,101.46 L1207.51,102.34 L1211.42,103.26 L1215.33,104.21 L1219.24,105.16 L1223.14,106.12 L1227.05,107.09 L1230.96,108.06 L1234.86,109.04 L1238.77,110.03 L1242.67,111.02 L1246.58,112.01 L1250.48,113.01 L1254.38,114.02 L1258.29,115.03 L1262.19,116.05 L1266.09,117.06 L1269.99,118.09 L1273.89,119.11 L1277.79,120.14 L1281.69,121.18 L1285.59,122.21 L1289.49,123.25 L1293.39,124.30 L1297.29,125.34 L1301.18,126.39 L1305.08,127.44 L1308.98,128.50 L1312.87,129.55 L1316.77,130.61 L1320.66,131.66 L1324.56,132.72 L1328.45,133.78 L1332.34,134.85 L1336.24,135.91 L1340.13,136.97 L1344.02,138.04 L1347.91,139.10 L1351.80,140.16 L1355.69,141.23 L1359.58,142.29 L1363.47,143.35 L1367.36,144.41 L1371.24,145.47 L1375.13,146.53 L1379.02,147.59 L1382.90,148.65 L1386.79,149.70 L1390.67,150.76 L1394.56,151.81 L1398.44,152.86 L1402.32,153.90 L1406.20,154.95 L1410.09,155.99 L1413.97,157.03 L1417.85,158.06 L1421.73,159.09 L1425.60,160.12 L1429.48,161.14 L1433.36,162.16 L1437.24,163.18 L1441.11,164.19 L1444.99,165.20 L1448.86,166.20 L1452.74,167.20 L1456.61,168.19 L1460.48,169.17 L1464.36,170.16 L1468.23,171.13 L1472.10,172.10" fill="none" stroke="#2e2e2e" stroke-width="3.4" stroke-linejoin="round"/>
</g>
<path d="M868.60,3 V631.3 H1495.80" fill="none" stroke="#000" stroke-width="2.5" stroke-linejoin="round" stroke-linecap="round"/>
<line x1="855.4" y1="27.80" x2="868.6" y2="27.80" stroke="#000" stroke-width="1.3"/>
<text transform="translate(843.6,35.80) scale(1,1.04)" font-family="Liberation Sans" font-size="20" text-anchor="end">10.0</text>
<line x1="855.4" y1="115.16" x2="868.6" y2="115.16" stroke="#000" stroke-width="1.3"/>
<text transform="translate(843.6,123.16) scale(1,1.04)" font-family="Liberation Sans" font-size="20" text-anchor="end">5.0</text>
<line x1="855.4" y1="230.64" x2="868.6" y2="230.64" stroke="#000" stroke-width="1.3"/>
<text transform="translate(843.6,238.64) scale(1,1.04)" font-family="Liberation Sans" font-size="20" text-anchor="end">2.0</text>
<line x1="855.4" y1="318.00" x2="868.6" y2="318.00" stroke="#000" stroke-width="1.3"/>
<text transform="translate(843.6,326.00) scale(1,1.04)" font-family="Liberation Sans" font-size="20" text-anchor="end">1.0</text>
<line x1="855.4" y1="405.36" x2="868.6" y2="405.36" stroke="#000" stroke-width="1.3"/>
<text transform="translate(843.6,413.36) scale(1,1.04)" font-family="Liberation Sans" font-size="20" text-anchor="end">0.5</text>
<line x1="855.4" y1="520.84" x2="868.6" y2="520.84" stroke="#000" stroke-width="1.3"/>
<text transform="translate(843.6,528.84) scale(1,1.04)" font-family="Liberation Sans" font-size="20" text-anchor="end">0.2</text>
<line x1="855.4" y1="608.20" x2="868.6" y2="608.20" stroke="#000" stroke-width="1.3"/>
<text transform="translate(843.6,616.20) scale(1,1.04)" font-family="Liberation Sans" font-size="20" text-anchor="end">0.1</text>
<line x1="879.30" y1="631" x2="879.30" y2="644" stroke="#000" stroke-width="1.3"/>
<text transform="translate(879.30,675.3) scale(1,1.04)" font-family="Liberation Sans" font-size="20" text-anchor="middle">10</text>
<line x1="997.78" y1="631" x2="997.78" y2="644" stroke="#000" stroke-width="1.3"/>
<text transform="translate(997.78,675.3) scale(1,1.04)" font-family="Liberation Sans" font-size="20" text-anchor="middle">20</text>
<line x1="1116.26" y1="631" x2="1116.26" y2="644" stroke="#000" stroke-width="1.3"/>
<text transform="translate(1116.26,675.3) scale(1,1.04)" font-family="Liberation Sans" font-size="20" text-anchor="middle">30</text>
<line x1="1234.74" y1="631" x2="1234.74" y2="644" stroke="#000" stroke-width="1.3"/>
<text transform="translate(1234.74,675.3) scale(1,1.04)" font-family="Liberation Sans" font-size="20" text-anchor="middle">40</text>
<line x1="1353.22" y1="631" x2="1353.22" y2="644" stroke="#000" stroke-width="1.3"/>
<text transform="translate(1353.22,675.3) scale(1,1.04)" font-family="Liberation Sans" font-size="20" text-anchor="middle">50</text>
<line x1="1471.70" y1="631" x2="1471.70" y2="644" stroke="#000" stroke-width="1.3"/>
<text transform="translate(1471.70,675.3) scale(1,1.04)" font-family="Liberation Sans" font-size="20" text-anchor="middle">60</text>
<text x="1181.1" y="724.3" font-family="Liberation Sans" font-size="20.3" text-anchor="middle">Respiratory.rate</text>
<text transform="translate(791.7,318) rotate(-90)" font-family="Liberation Sans" font-size="20" text-anchor="middle">OR(95% CI)</text>
</svg>
</body></html>
